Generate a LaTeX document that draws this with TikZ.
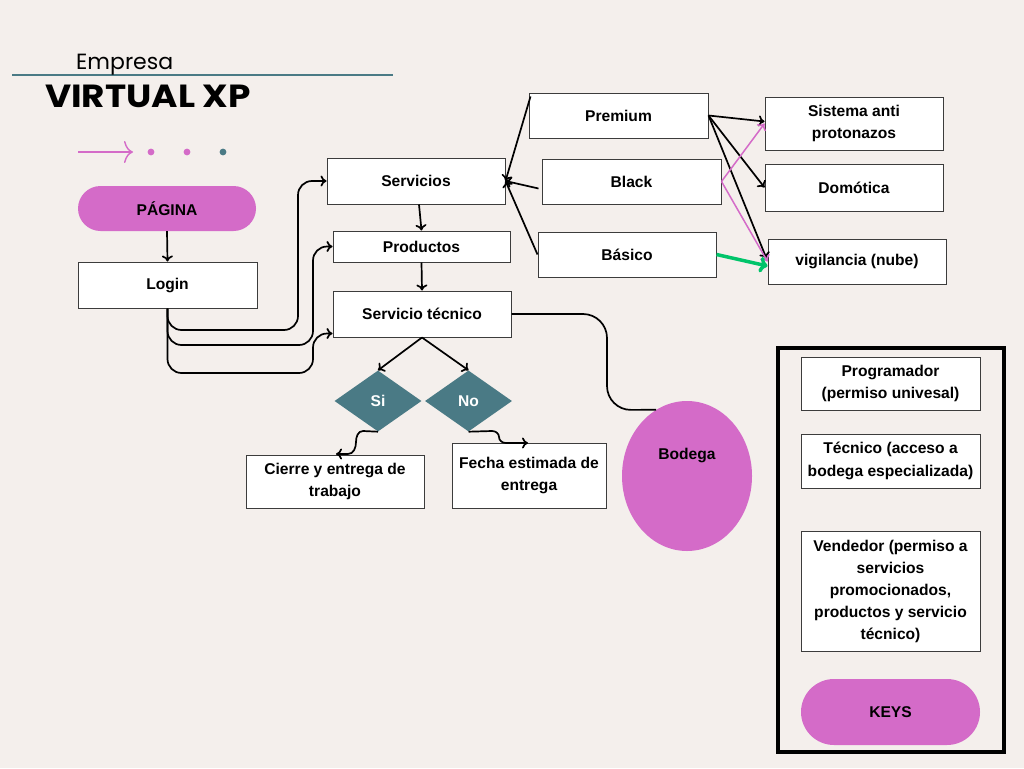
\documentclass[tikz,border=0pt]{standalone}
\usepackage{fontspec}
\setmainfont{Liberation Sans}
\newfontfamily\popp{Poppins}
\usetikzlibrary{arrows.meta,shapes.geometric}
\definecolor{bg}{RGB}{244,239,236}
\definecolor{pinkc}{RGB}{212,107,200}
\definecolor{tealc}{RGB}{74,122,133}
\definecolor{greenc}{RGB}{0,196,106}
\definecolor{edgec}{RGB}{60,60,60}
\begin{document}
\begin{tikzpicture}[x=1pt,y=-1pt,
 box/.style={draw=edgec, fill=white, line width=1pt, font=\bfseries\fontsize{15.6}{22.5}\selectfont, align=center, inner sep=0pt},
 pill/.style={fill=pinkc, font=\bfseries\fontsize{15.6}{18}\selectfont, inner sep=0pt},
 dia/.style={diamond, fill=tealc, text=white, font=\bfseries\fontsize{15.6}{18}\selectfont, minimum width=87pt, minimum height=61pt, inner sep=0pt},
 conn/.style={line width=1.7pt, -{To[length=6pt,width=11pt]}},
 pconn/.style={pinkc, line width=1.5pt, -{To[length=6pt,width=11pt]}},
 ]
\fill[bg] (0,0) rectangle (1024,768);
\useasboundingbox (0,0) rectangle (1024,768);

% title
\draw[tealc, line width=1.8pt] (12,75) -- (393,75);
\node[anchor=base west, inner sep=0pt, font=\popp\fontsize{22}{22}\selectfont] (emp) at (76,70) {Empresa};
\node[anchor=base west, inner sep=0pt, font=\popp\bfseries\fontsize{32}{32}\selectfont] (vxp) at (45,107) {\scalebox{1.12}[1]{VIRTUAL XP}};

% decorative arrow and dots
\coordinate (da) at (78,152);
\coordinate (db) at (133,152);
\draw[pinkc, line width=1.4pt, -{To[length=9pt,width=22pt]}] (da) -- (db);
\fill[pinkc] (151,152) circle (3.4);
\fill[pinkc] (187,152) circle (3.4);
\fill[tealc] (223,152) circle (3.4);

% nodes
\node[pill, rounded corners=22.5pt, minimum width=178pt, minimum height=45pt] (pag) at (167,208.5) {PÁGINA};
\node[box, minimum width=179pt, minimum height=46pt] (login) at (167.5,285) {Login};
\node[box, minimum width=178pt, minimum height=46pt] (serv) at (416,181) {Servicios};
\node[box, minimum width=177pt, minimum height=31pt] (prod) at (421.5,246.5) {Productos};
\node[box, minimum width=178pt, minimum height=46pt] (tec) at (422,314) {Servicio técnico};
\node[box, minimum width=179pt, minimum height=45pt] (prem) at (618.5,115.5) {Premium};
\node[box, minimum width=179pt, minimum height=45pt] (black) at (631.5,181.5) {Black};
\node[box, minimum width=178pt, minimum height=45pt] (bas) at (627,254.5) {Básico};
\node[box, minimum width=178pt, minimum height=53pt] (sist) at (854,123.5) {Sistema anti\\protonazos};
\node[box, minimum width=178pt, minimum height=47pt] (dom) at (854,187.5) {Domótica};
\node[box, minimum width=178pt, minimum height=45pt] (vig) at (857,261.5) {vigilancia (nube)};
\node[dia] (si) at (378,401) {Si};
\node[dia] (no) at (468.5,401) {No};
\node[box, minimum width=178pt, minimum height=53pt] (cierre) at (335,481.5) {Cierre y entrega de\\trabajo};
\node[box, minimum width=154pt, minimum height=65pt] (fecha) at (529,475.5) {Fecha estimada de\\entrega};
\node[ellipse, fill=pinkc, minimum width=130pt, minimum height=150pt, inner sep=0pt] (bodega) at (687,476) {};
\node[font=\bfseries\fontsize{15.6}{18}\selectfont, inner sep=0pt] (bodt) at (687,455) {Bodega};

% keys
\node[draw=black, line width=4pt, minimum width=226pt, minimum height=404pt, inner sep=0pt] (frame) at (891,550) {};
\node[box, minimum width=179pt, minimum height=53pt] (progr) at (890.5,383.5) {Programador\\(permiso univesal)};
\node[box, minimum width=179pt, minimum height=54pt] (tecn) at (890.5,461) {Técnico (acceso a\\bodega especializada)};
\node[box, minimum width=179pt, minimum height=120pt, font=\bfseries\fontsize{15.6}{22}\selectfont] (vend) at (890.5,591) {Vendedor (permiso a\\servicios\\promocionados,\\productos y servicio\\técnico)};
\node[pill, rounded corners=33pt, minimum width=179pt, minimum height=66pt] (keys) at (890.5,712) {KEYS};

% connectors
\draw[conn] (pag.south) -- (login.north);
\draw[conn, rounded corners=14pt] (login.south) |- (298,330) |- (serv.west);
\draw[conn, rounded corners=14pt] (login.south) |- (313,345) |- (prod.west);
\draw[conn, rounded corners=14pt] (login.south) |- (313,373) |- ([yshift=4pt]tec.south west);
\draw[conn] ([xshift=3pt]serv.south) -- (prod.north);
\draw[conn] (prod.south) -- (tec.north);
\draw[conn] (tec.south) -- (si.north);
\draw[conn] (tec.south) -- (no.north);
\draw[conn] (si.south) -- (363,431) to[out=180,in=90] (356,442) to[out=270,in=0] (348,454) -- (336,454);
\draw[conn] (no.south) -- (492,431) to[out=0,in=90] (499,437) to[out=270,in=180] (506,443) -- (528,443);
\draw[line width=1.7pt, rounded corners=24pt] (tec.east) -| (607,410) -- (bodega.115);

\draw[conn] ([xshift=2pt,yshift=-4pt]prem.north west) -- (serv.east);
\draw[conn] ([xshift=-3pt,yshift=-7pt]black.west) -- (serv.east);
\draw[conn] (bas.west) -- (serv.east);

\draw[conn] (prem.east) -- ([yshift=2pt]sist.west);
\draw[conn] (prem.east) -- (dom.west);
\draw[conn] (prem.east) -- ([xshift=-1pt,yshift=3pt]vig.west);
\draw[pconn] (black.east) -- (sist.west);
\draw[pconn] (black.east) -- ([yshift=0pt]vig.west);
\draw[greenc, line width=3.5pt, -{To[length=8pt,width=16pt]}] (bas.east) -- ([yshift=-4.5pt]vig.west);
\end{tikzpicture}
\end{document}
